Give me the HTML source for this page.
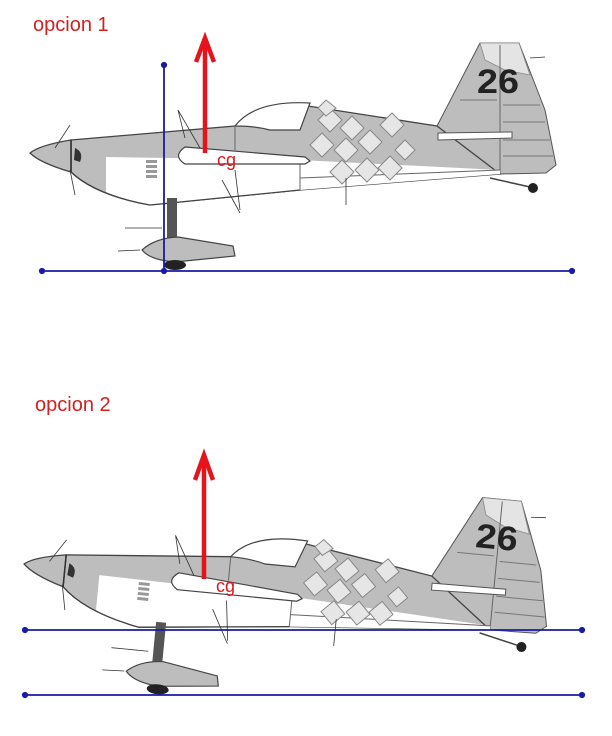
<!DOCTYPE html>
<html><head><meta charset="utf-8"><style>
html,body{margin:0;padding:0;background:#fff;}
svg{display:block;}
</style></head><body>
<svg width="612" height="736" viewBox="0 0 612 736" xmlns="http://www.w3.org/2000/svg">
<defs>
<g id="plane">
  <path d="M437,126 L480,43 L519,43 L545,110 L556,165 L546,173 L500,174 L437,140 Z" fill="#bdbdbd" stroke="#555" stroke-width="1"/>
  <path d="M480,43 L519,43 L530,75 L505,70 L485,60 Z" fill="#e4e4e4" stroke="#888" stroke-width="0.8"/>
  <line x1="500" y1="45" x2="500" y2="174" stroke="#666" stroke-width="1"/>
  <g stroke="#777" stroke-width="1">
    <line x1="503" y1="105" x2="540" y2="105"/><line x1="503" y1="122" x2="545" y2="122"/>
    <line x1="503" y1="140" x2="550" y2="140"/><line x1="503" y1="156" x2="553" y2="156"/>
    <line x1="460" y1="100" x2="497" y2="100"/>
  </g>
  <path d="M71,140 L235,126 L308,106 L437,126 L500,174 L300,190 L150,205 Q95,195 71,172 Z" fill="#bdbdbd" stroke="#444" stroke-width="1.3"/>
  <path d="M106,157 L300,160 L500,170 L500,174 L300,190 L150,205 Q118,198 106,192 Z" fill="#fff"/>
  <path d="M300,190 L150,205 Q95,195 71,172" fill="none" stroke="#444" stroke-width="1.3"/>
  <line x1="300" y1="160" x2="300" y2="190" stroke="#666" stroke-width="1"/>
  <line x1="300" y1="178" x2="500" y2="170" stroke="#666" stroke-width="1"/>
  <path d="M235,126 Q255,100 310,103 L300,130 L270,130 Q255,126 235,126 Z" fill="#fff" stroke="#444" stroke-width="1.2"/>
  <line x1="235" y1="126" x2="235" y2="150" stroke="#666" stroke-width="1"/>
  <g fill="#e6e6e6" stroke="#888" stroke-width="1">
    <path d="M318,120 L330,108 L342,120 L330,132 Z"/><path d="M340,128 L352,116 L364,128 L352,140 Z"/>
    <path d="M310,145 L322,133 L334,145 L322,157 Z"/><path d="M334,150 L346,138 L358,150 L346,162 Z"/>
    <path d="M358,142 L370,130 L382,142 L370,154 Z"/><path d="M330,172 L342,160 L354,172 L342,184 Z"/>
    <path d="M355,170 L367,158 L379,170 L367,182 Z"/><path d="M378,168 L390,156 L402,168 L390,180 Z"/>
    <path d="M318,108 L326,100 L336,108 L326,116 Z"/><path d="M380,125 L392,113 L404,125 L392,137 Z"/>
    <path d="M395,150 L405,140 L415,150 L405,160 Z"/>
  </g>
  <path d="M185,147 L305,157 L310,161 L305,164 L185,164 Q172,156 185,147 Z" fill="#fff" stroke="#444" stroke-width="1.2"/>
  <path d="M438,133 L512,132 L512,138 L438,140 Z" fill="#fff" stroke="#555" stroke-width="1"/>
  <path d="M71,140 Q40,145 30,153 Q40,163 71,172 Z" fill="#bdbdbd" stroke="#444" stroke-width="1.3"/>
  <line x1="71" y1="140" x2="71" y2="172" stroke="#333" stroke-width="1.5"/>
  <path d="M75,148 Q84,152 80,162 L74,160 Z" fill="#333"/>
  <g fill="#999"><rect x="146" y="160" width="11" height="3"/><rect x="146" y="165" width="11" height="3"/><rect x="146" y="170" width="11" height="3"/><rect x="146" y="175" width="11" height="3"/></g>
  <text x="477" y="93" font-family="Liberation Sans, sans-serif" font-weight="bold" font-size="34" fill="#222" textLength="42" lengthAdjust="spacingAndGlyphs">26</text>
  <rect x="167" y="198" width="10" height="42" fill="#555"/>
  <path d="M142,250 Q155,238 178,237 L233,246 L235,256 L175,262 Q150,260 142,250 Z" fill="#bdbdbd" stroke="#444" stroke-width="1.2"/>
  <ellipse cx="175" cy="265" rx="11" ry="5" fill="#222"/>
  <line x1="490" y1="178" x2="530" y2="187" stroke="#444" stroke-width="1.5"/>
  <circle cx="533" cy="188" r="5" fill="#222"/>
  <g stroke="#333" stroke-width="0.8" fill="none">
    <line x1="70" y1="125" x2="55" y2="148"/><line x1="70" y1="170" x2="75" y2="195"/>
    <path d="M178,110 L185,138 M178,110 L200,148"/>
    <line x1="240" y1="213" x2="222" y2="180"/><line x1="235" y1="170" x2="240" y2="210"/>
    <line x1="346" y1="178" x2="346" y2="205"/>
    <line x1="530" y1="58" x2="545" y2="57"/>
    <line x1="125" y1="228" x2="162" y2="228"/><line x1="118" y1="251" x2="140" y2="250"/>
  </g>
</g>
</defs>
<text x="33" y="31" font-family="Liberation Sans, sans-serif" font-size="20" fill="#d42020">opcion 1</text>
<use href="#plane"/>
<line x1="205" y1="153" x2="205" y2="42" stroke="#e5141c" stroke-width="4.5"/>
<path d="M196,62 L205,38 L214,62" fill="none" stroke="#e5141c" stroke-width="4.5"/>
<text x="217" y="166" font-family="Liberation Sans, sans-serif" font-size="18" fill="#e5141c">cg</text>
<g stroke="#1a1aa8" stroke-width="1.8" fill="#1a1aa8">
  <line x1="164" y1="65" x2="164" y2="271"/><circle cx="164" cy="65" r="2.2"/>
  <line x1="42" y1="271" x2="572" y2="271"/><circle cx="42" cy="271" r="2.2"/><circle cx="572" cy="271" r="2.2"/><circle cx="164" cy="271" r="2.2"/>
</g>

<text x="35" y="411" font-family="Liberation Sans, sans-serif" font-size="20" fill="#d42020">opcion 2</text>
<use href="#plane" transform="translate(25,565) rotate(5.5) translate(-31,-154)"/>
<line x1="204" y1="579" x2="204" y2="460" stroke="#e5141c" stroke-width="4.5"/>
<path d="M195,480 L204,455 L213,480" fill="none" stroke="#e5141c" stroke-width="4.5"/>
<text x="216" y="592" font-family="Liberation Sans, sans-serif" font-size="18" fill="#e5141c">cg</text>
<g stroke="#1a1aa8" stroke-width="1.8" fill="#1a1aa8">
  <line x1="25" y1="630" x2="582" y2="630"/><circle cx="25" cy="630" r="2.2"/><circle cx="582" cy="630" r="2.2"/>
  <line x1="25" y1="695" x2="582" y2="695"/><circle cx="25" cy="695" r="2.2"/><circle cx="582" cy="695" r="2.2"/>
</g>
</svg>
</body></html>
